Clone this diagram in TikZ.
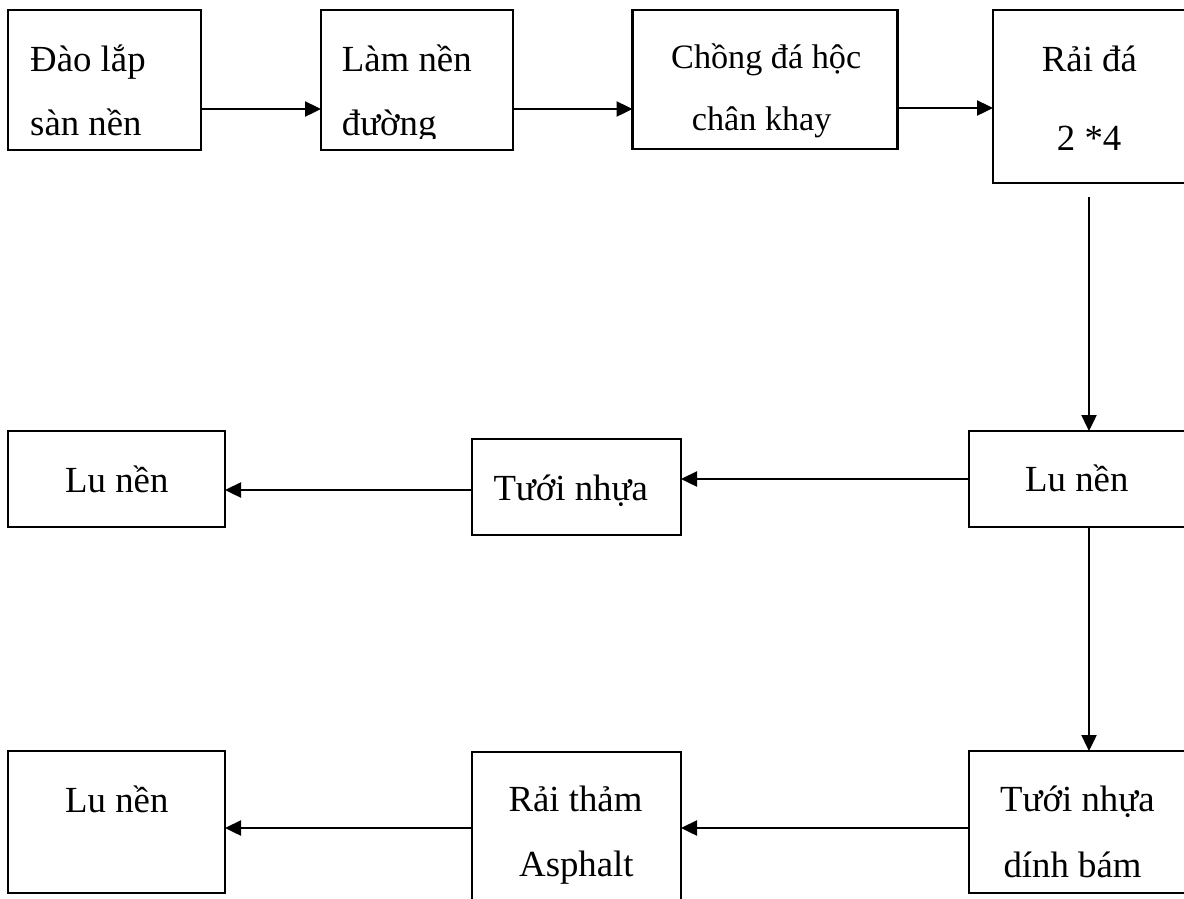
\documentclass[tikz,border=0pt]{standalone}
\usepackage{fontspec}
\setmainfont{Liberation Serif}
\usetikzlibrary{arrows.meta}
\begin{document}
\begin{tikzpicture}[x=1pt,y=-1pt,
  box/.style={draw, line width=2.4pt, inner sep=0pt, outer sep=0pt},
  lbl/.style={anchor=base west, inner sep=0pt, font=\fontsize{36.8}{44}\selectfont},
  smalllbl/.style={lbl, font=\fontsize{34.2}{41}\selectfont},
  arr/.style={line width=2.4pt, -{Triangle[length=16pt,width=15pt]}}]
\clip (0,0) rectangle (1184,898);
\fill[white] (0,0) rectangle (1184,898);

% top row
\node[box, minimum width=193pt, minimum height=140pt] (b1) at (104.5,80) {};
\node[box, minimum width=192pt, minimum height=140pt] (b2) at (417,80) {};
\node[box, minimum width=265pt, minimum height=139pt] (b3) at (765,79.5) {};
\node[box, minimum width=207pt, minimum height=173pt] (b4) at (1096.5,96.5) {};

% middle row
\node[box, minimum width=240pt, minimum height=96pt] (r1) at (1089,479) {};
\node[box, minimum width=209pt, minimum height=96pt] (r2) at (576.5,487) {};
\node[box, minimum width=217pt, minimum height=96pt] (r3) at (116.5,479) {};

% bottom row
\node[box, minimum width=240pt, minimum height=142pt] (s1) at (1089,822) {};
\node[box, minimum width=209pt, minimum height=153pt] (s2) at (576.5,828.5) {};
\node[box, minimum width=217pt, minimum height=142pt] (s3) at (116.5,822) {};

% labels
\node[lbl] (t1a) at (30,71.7) {Đào lắp};
\node[lbl] (t1b) at (30,135) {sàn nền};
\node[lbl] (t2a) at (341.7,71.7) {Làm nền};
\begin{scope}
  \clip (321,10) rectangle (513,138.5);
  \node[lbl] (t2b) at (341.7,135) {đường};
\end{scope}
\node[smalllbl] (t3a) at (671,68.3) {Chồng đá hộc};
\node[smalllbl] (t3b) at (691.7,130) {chân khay};
\node[lbl] (t4a) at (1041.7,71.7) {Rải đá};
\node[lbl] (t4b) at (1056.7,150.7) {2 *4};

\node[lbl] (u1) at (1025,491.7) {Lu nền};
\node[lbl] (u2) at (493.3,500) {Tưới nhựa};
\node[lbl] (u3) at (65,492.7) {Lu nền};

\node[lbl] (v1a) at (1000,811.7) {Tưới nhựa};
\node[lbl] (v1b) at (1003.3,877.3) {dính bám};
\node[lbl] (v2a) at (508.3,811.7) {Rải thảm};
\node[lbl] (v2b) at (519,876.7) {Asphalt};
\node[lbl] (v3) at (65,812.7) {Lu nền};

% connectors
\draw[arr] ([yshift=-29pt]b1.east) -- ([yshift=-29pt]b1.east -| b2.west);
\draw[arr] ([yshift=-29pt]b2.east) -- ([yshift=-29pt]b2.east -| b3.west);
\draw[arr] ([yshift=-28.5pt]b3.east) -- ([yshift=-28.5pt]b3.east -| b4.west);
\draw[arr, shorten <=14pt] (b4.south -| r1.north) -- (r1.north);
\draw[arr] (r1.west) -- (r1.west -| r2.east);
\draw[arr] ([yshift=-3pt]r2.west) -- ([yshift=-3pt]r2.west -| r3.east);
\draw[arr] (r1.south) -- (s1.north);
\draw[arr] ([yshift=-6pt]s1.west) -- ([yshift=-6pt]s1.west -| s2.east);
\draw[arr] ([yshift=-6pt]s1.west -| s2.west) -- ([yshift=-6pt]s1.west -| s3.east);
\end{tikzpicture}
\end{document}
